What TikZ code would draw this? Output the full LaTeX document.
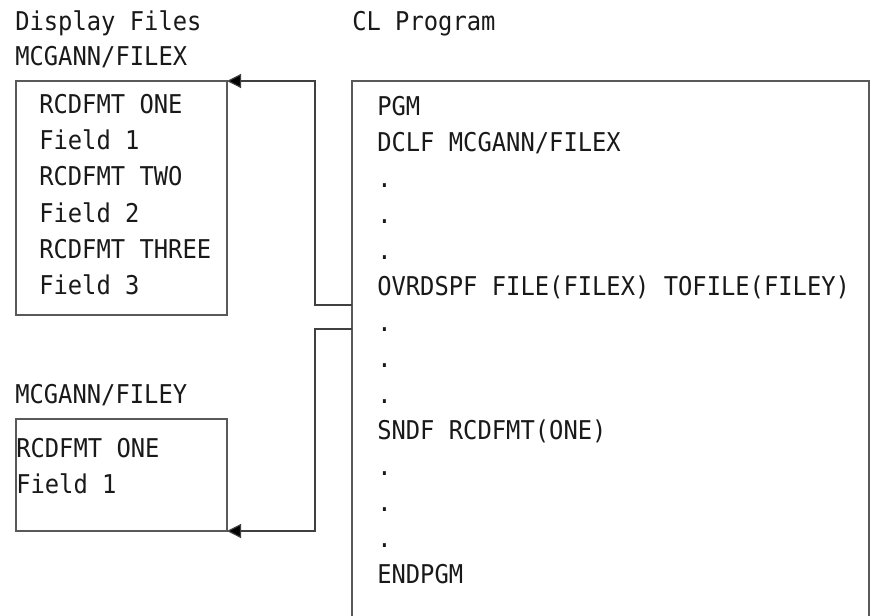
\documentclass[tikz,border=0pt]{standalone}
\usepackage{fontspec}
\setmonofont[FakeStretch=0.92]{DejaVu Sans Mono}
\usetikzlibrary{arrows.meta}

\begin{document}
\begin{tikzpicture}[x=0.75pt,y=-0.75pt,
  txt/.style={anchor=base west,inner sep=0pt,font=\ttfamily\fontsize{19.4}{22}\selectfont,text=black!90},
  box/.style={draw=black!65,line width=0.9pt,inner sep=0pt,outer sep=0pt},
  arr/.style={draw=black!75,line width=0.9pt,-{Triangle[length=10.5pt,width=10.5pt,fill=black]}}]
  \clip (0,0) rectangle (871,615);
  % titles
  \node[txt] (disp) at (15,30) {Display Files};
  \node[txt] (cl) at (352,30) {CL Program};
  \node[txt] (xname) at (15,65) {MCGANN/FILEX};
  \node[txt] (yname) at (15,403) {MCGANN/FILEY};
  % boxes
  \node[box,minimum width=158.25pt,minimum height=175.5pt] (filex) at (121.5,198) {};
  \node[box,minimum width=158.25pt,minimum height=84pt] (filey) at (121.5,475) {};
  \node[box,minimum width=387.75pt,minimum height=419.25pt] (prog) at (610.5,360.5) {};
  % display file records
  \foreach \t [count=\i] in {RCDFMT ONE,Field 1,RCDFMT TWO,Field 2,RCDFMT THREE,Field 3}
    \node[txt] (x\i) at (39,77+36.3*\i) {\t};
  \node[txt] (y1) at (16,457) {RCDFMT ONE};
  \node[txt] (y2) at (16,493) {Field 1};
  % program lines
  \foreach \t [count=\i] in {PGM,DCLF MCGANN/FILEX,.,.,.,OVRDSPF FILE(FILEX) TOFILE(FILEY),.,.,.,SNDF RCDFMT(ONE),.,.,.,ENDPGM}
    \node[txt] (p\i) at (377,79+36*\i) {\t};
  % connectors
  \coordinate (out1) at (prog.west |- 0,305);
  \coordinate (out2) at (prog.west |- 0,329);
  \draw[arr] (out1) -- ++(-37,0) |- (filex.north east);
  \draw[arr] (out2) -- ++(-37,0) |- (filey.south east);
\end{tikzpicture}
\end{document}
